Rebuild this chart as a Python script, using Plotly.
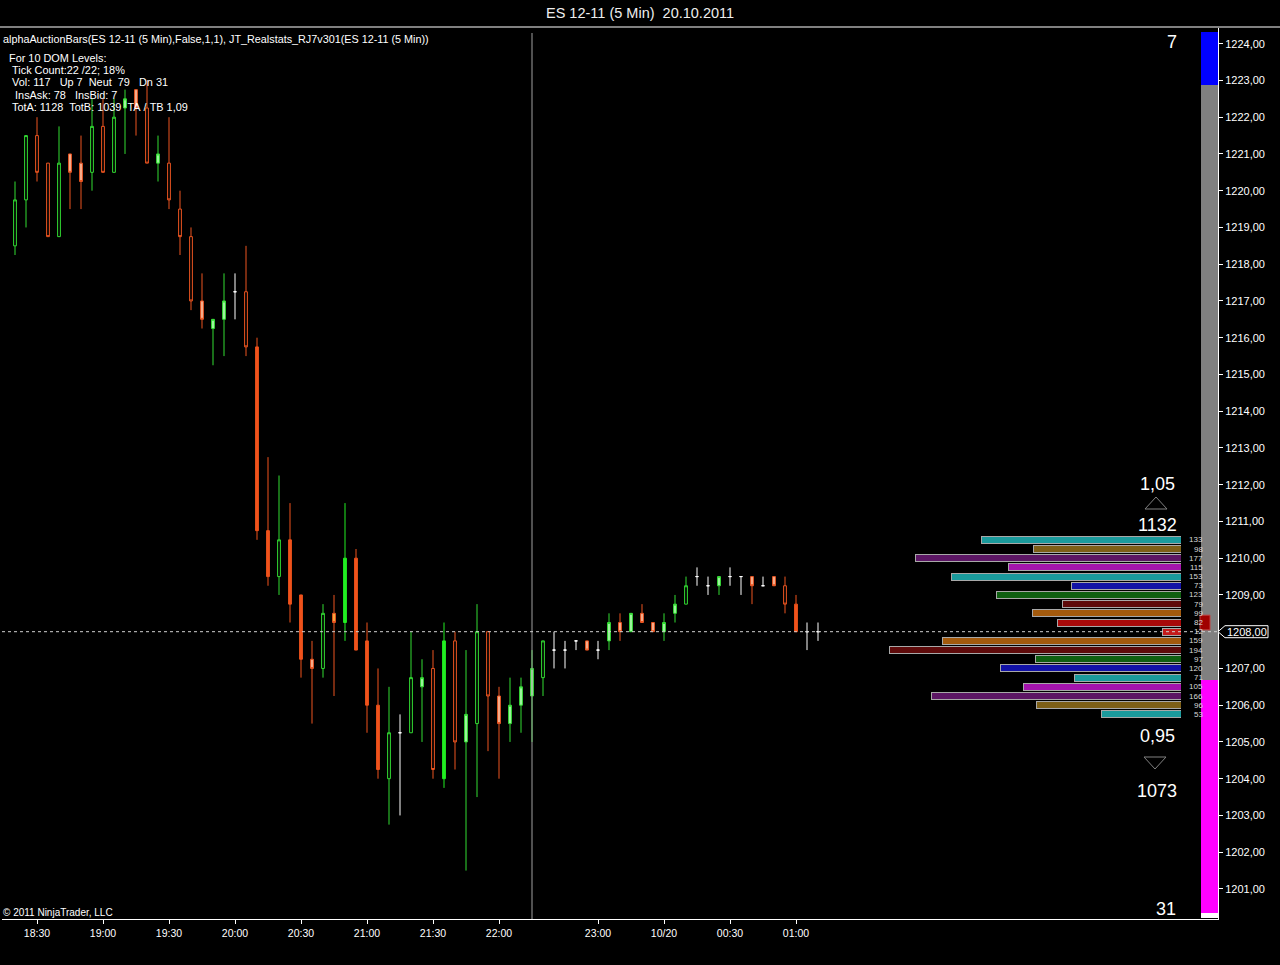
import plotly.graph_objects as go

# ---------------- data ----------------
bar_idx = list(range(74))
opens = [1218.5, 1219.75, 1221.5, 1220.75, 1218.75, 1221.0, 1220.75, 1220.5, 1221.75, 1220.5,
         1222.25, 1222.75, 1222.25, 1220.75, 1220.75, 1219.5, 1218.75, 1217.0, 1216.25, 1216.5,
         1217.25, 1217.25, 1215.75, 1210.75, 1209.5, 1210.5, 1209.0, 1207.25, 1207.0, 1208.5,
         1208.25, 1210.0, 1207.75, 1206.0, 1204.0, 1205.25, 1205.25, 1206.5, 1207.0, 1204.0,
         1207.75, 1205.0, 1205.5, 1208.0, 1206.25, 1205.5, 1206.0, 1206.25, 1206.75, 1207.5,
         1207.5, 1207.75, 1207.75, 1207.5, 1207.75, 1208.25, 1208.0, 1208.5, 1208.25, 1208.0,
         1208.5, 1208.75, 1209.5, 1209.25, 1209.25, 1209.5, 1209.5, 1209.5, 1209.25, 1209.5,
         1209.25, 1208.75, 1208.0, 1208.0]
highs = [1220.25, 1221.5, 1222.0, 1220.75, 1221.75, 1221.0, 1221.5, 1222.5, 1222.5, 1222.5,
         1222.75, 1222.75, 1223.0, 1221.5, 1222.0, 1220.0, 1219.0, 1217.75, 1216.5, 1217.75,
         1217.75, 1218.5, 1216.0, 1212.75, 1212.25, 1211.5, 1209.0, 1207.75, 1208.75, 1209.0,
         1211.5, 1210.25, 1208.25, 1207.0, 1206.5, 1205.75, 1208.0, 1207.25, 1207.5, 1208.25,
         1208.0, 1207.5, 1208.75, 1208.0, 1206.5, 1206.75, 1206.75, 1207.5, 1207.75, 1208.0,
         1207.75, 1207.75, 1207.75, 1207.75, 1208.5, 1208.5, 1208.5, 1208.75, 1208.25, 1208.5,
         1209.0, 1209.5, 1209.75, 1209.5, 1209.5, 1209.75, 1209.5, 1209.5, 1209.5, 1209.5,
         1209.5, 1209.0, 1208.25, 1208.25]
lows = [1218.25, 1219.0, 1220.25, 1218.75, 1218.75, 1219.5, 1219.5, 1220.0, 1220.5, 1220.5,
        1221.0, 1221.5, 1220.75, 1220.25, 1219.5, 1218.25, 1216.75, 1216.25, 1215.25, 1215.5,
        1216.5, 1215.5, 1210.5, 1209.25, 1209.0, 1208.25, 1206.75, 1205.5, 1206.75, 1206.25,
        1207.75, 1207.5, 1205.25, 1204.0, 1202.75, 1203.0, 1205.25, 1205.0, 1204.0, 1203.75,
        1204.25, 1201.5, 1203.5, 1204.75, 1204.0, 1205.0, 1205.25, 1205.0, 1206.25, 1207.0,
        1207.0, 1207.5, 1207.5, 1207.25, 1207.5, 1207.75, 1208.0, 1208.25, 1208.0, 1207.75,
        1208.25, 1208.75, 1209.25, 1209.0, 1209.0, 1209.25, 1209.0, 1208.75, 1209.25, 1209.25,
        1208.5, 1208.0, 1207.5, 1207.75]
closes = [1219.75, 1221.5, 1220.5, 1218.75, 1220.75, 1220.5, 1220.25, 1221.75, 1220.5, 1222.0,
          1222.5, 1222.25, 1220.75, 1221.0, 1219.75, 1218.75, 1217.0, 1216.5, 1216.5, 1217.0,
          1217.25, 1215.75, 1210.75, 1209.5, 1210.5, 1208.75, 1207.25, 1207.0, 1208.5, 1208.25,
          1210.0, 1207.5, 1206.0, 1204.25, 1205.25, 1205.25, 1206.75, 1206.75, 1204.25, 1207.75,
          1205.0, 1205.75, 1208.0, 1206.25, 1205.5, 1206.0, 1206.5, 1207.0, 1207.75, 1207.5,
          1207.5, 1207.75, 1207.5, 1207.5, 1208.25, 1208.0, 1208.5, 1208.25, 1208.0, 1208.25,
          1208.75, 1209.25, 1209.5, 1209.25, 1209.5, 1209.5, 1209.5, 1209.25, 1209.25, 1209.25,
          1208.75, 1208.0, 1208.0, 1208.0]
bar_styles = ['G', 'G', 'R', 'R', 'G', 'RL', 'RL', 'G', 'R', 'G',
              'GL', 'RL', 'R', 'GL', 'R', 'R', 'R', 'RL', 'GL', 'GL',
              'W', 'R', 'RF', 'RF', 'G', 'RF', 'RF', 'RL', 'G', 'Y',
              'GF', 'RF', 'RF', 'RF', 'G', 'W', 'G', 'GL', 'R', 'GF',
              'R', 'GL', 'G', 'R', 'RL', 'GL', 'GL', 'GL', 'G', 'W',
              'W', 'W', 'RL', 'W', 'GL', 'RL', 'GL', 'RL', 'RL', 'GL',
              'GL', 'G', 'W', 'W', 'GL', 'W', 'W', 'RL', 'W', 'RL',
              'R', 'RF', 'W', 'W']

time_tick_idx = [2, 8, 14, 20, 26, 32, 38, 44, 53, 59, 65, 71]
time_tick_labels = ['18:30', '19:00', '19:30', '20:00', '20:30', '21:00', '21:30', '22:00',
                    '23:00', '10/20', '00:30', '01:00']
price_ticks = [1201, 1202, 1203, 1204, 1205, 1206, 1207, 1209, 1210, 1211, 1212,
               1213, 1214, 1215, 1216, 1217, 1218, 1219, 1220, 1221, 1222, 1223, 1224]
last_price = 1208.0
session_line_idx = 47

dom_prices = [1210.5, 1210.25, 1210.0, 1209.75, 1209.5, 1209.25, 1209.0, 1208.75, 1208.5, 1208.25,
              1208.0, 1207.75, 1207.5, 1207.25, 1207.0, 1206.75, 1206.5, 1206.25, 1206.0, 1205.75]
dom_sizes = [133, 98, 177, 115, 153, 73, 123, 79, 99, 82,
             12, 159, 194, 97, 120, 71, 105, 166, 96, 53]
dom_colors = ['#1a9a9c', '#7d5f17', '#5c1664', '#a414ac', '#1a9a9c', '#1212a6', '#0f5f11', '#5e0a0a',
              '#a35a0d', '#a80a0a', '#c41a1a', '#a35a0d', '#5e0a0a', '#0f5f11', '#1212a6', '#1a9a9c',
              '#a414ac', '#5c1664', '#7d5f17', '#1a9a9c']

vol_up, vol_neut, vol_dn = 7, 79, 31

info_lines = [
    'For 10 DOM Levels:',
    ' Tick Count:22 /22; 18%',
    ' Vol: 117   Up 7  Neut  79   Dn 31',
    '  InsAsk: 78   InsBid: 7',
    ' TotA: 1128  TotB: 1039  TA / TB 1,09',
]
header_text = 'alphaAuctionBars(ES 12-11 (5 Min),False,1,1), JT_Realstats_RJ7v301(ES 12-11 (5 Min))'
title_text = 'ES 12-11 (5 Min)  20.10.2011'
ask_ratio, ask_total = '1,05', '1132'
bid_ratio, bid_total = '0,95', '1073'

# ---------------- layout geometry ----------------
W, H = 1280, 965
ML, MR, MT, MB = 2, 62, 28, 46
PW = W - ML - MR
PH = H - MT - MB


def px(x):
    return (x - ML) / PW


def py(y):
    return (H - MB - y) / PH


FONT = 'Arial, Liberation Sans, sans-serif'

style_defs = {
    'G': ('#33dd33', '#000000'),
    'R': ('#ec5520', '#000000'),
    'GF': ('#22ee22', '#22ee22'),
    'RF': ('#f0521c', '#f0521c'),
    'GL': ('#33dd33', '#a8f8a8'),
    'RL': ('#ec5520', '#f8b898'),
    'Y': ('#ec5520', '#f8b040'),
    'W': ('#ffffff', '#ffffff'),
}

fig = go.Figure()

for code, (lc, fc) in style_defs.items():
    sel = [i for i, s in enumerate(bar_styles) if s == code]
    if not sel:
        continue
    fig.add_trace(go.Candlestick(
        x=[bar_idx[i] for i in sel],
        open=[opens[i] for i in sel],
        high=[highs[i] for i in sel],
        low=[lows[i] for i in sel],
        close=[closes[i] for i in sel],
        increasing=dict(line=dict(color=lc, width=1), fillcolor=fc),
        decreasing=dict(line=dict(color=lc, width=1), fillcolor=fc),
        whiskerwidth=0,
        showlegend=False, hoverinfo='skip',
    ))

# DOM bars
fig.add_trace(go.Bar(
    x=dom_sizes, y=dom_prices, orientation='h', xaxis='x2', yaxis='y',
    width=0.19, marker=dict(color=dom_colors, line=dict(color='#a8a8a8', width=1)),
    showlegend=False, hoverinfo='skip',
))

# volume split bar
for val, col in [(vol_dn, '#ff00ff'), (vol_neut, '#808080'), (vol_up, '#0000ff')]:
    fig.add_trace(go.Bar(
        x=[0], y=[val], xaxis='x3', yaxis='y3', width=1,
        marker=dict(color=col, line=dict(width=0)),
        showlegend=False, hoverinfo='skip',
    ))

annotations = []


def add_text(text, x, y, size, color='#ffffff', xanchor='left', yanchor='middle', xref='paper', yref='paper'):
    annotations.append(dict(text=text, x=x, y=y, xref=xref, yref=yref, xanchor=xanchor,
                            yanchor=yanchor, showarrow=False,
                            font=dict(family=FONT, size=size, color=color)))


add_text(title_text.replace(' ', '\u00a0'), px(640), py(13), 14.5, '#eeeeee', xanchor='center')
add_text(header_text, px(1), py(39), 10.8)
for i, t in enumerate(info_lines):
    add_text(t.replace(' ', '\u00a0'), px(7), py(58 + 12.2 * i), 10.9)
add_text('\u00a9 2011 NinjaTrader, LLC', px(1), py(912), 10)

add_text(str(vol_up), px(1172), py(42), 18, xanchor='center')
add_text(str(vol_dn), px(1166), py(909), 18, xanchor='center')
add_text(ask_ratio, px(1157), py(484), 18, xanchor='center')
add_text(ask_total, px(1157), py(525), 18, xanchor='center')
add_text(bid_ratio, px(1157), py(736), 18, xanchor='center')
add_text(bid_total, px(1157), py(791), 18, xanchor='center')

for p, s in zip(dom_prices, dom_sizes):
    add_text(str(s), px(1204.5), p, 8, '#d8d8d8', xanchor='right', yref='y')

add_text(f'{last_price:.2f}'.replace('.', ','), px(1247), last_price, 11, xanchor='center', yref='y')

shapes = [
    # top border line
    dict(type='line', xref='paper', yref='paper', x0=px(0), x1=px(1280), y0=py(27), y1=py(27),
         line=dict(color='#ffffff', width=1)),
    # session vertical line
    dict(type='line', xref='x', yref='paper', x0=session_line_idx, x1=session_line_idx, y0=0, y1=py(33),
         line=dict(color='#a0a0a0', width=1)),
    # last price dotted line
    dict(type='line', xref='paper', yref='y', x0=0, x1=1, y0=last_price, y1=last_price,
         line=dict(color='#d0d0d0', width=1, dash='dot')),
    # price marker box
    dict(type='path', xref='paper', yref='y', xsizemode='pixel', ysizemode='pixel',
         xanchor=1, yanchor=last_price, path='M 0 0 L 7 6 L 50 6 L 50 -6 L 7 -6 Z',
         line=dict(color='#ffffff', width=1), fillcolor='#000000'),
    # small ask marker
    dict(type='rect', xref='paper', yref='y', xsizemode='pixel', xanchor=1, x0=-18, x1=-8,
         y0=last_price + 0.05, y1=last_price + 0.45, fillcolor='#a00000', line=dict(color='#c04040', width=1)),
    # white strip at bottom of volume bar
    dict(type='rect', xref='paper', yref='paper', x0=px(1201), x1=px(1218), y0=py(918), y1=py(913),
         fillcolor='#ffffff', line=dict(width=0)),
    # triangles
    dict(type='path', xref='paper', yref='paper', xsizemode='pixel', ysizemode='pixel',
         xanchor=px(1156), yanchor=py(503), path='M -11 -6 L 0 6 L 11 -6 Z',
         line=dict(color='#808080', width=1)),
    dict(type='path', xref='paper', yref='paper', xsizemode='pixel', ysizemode='pixel',
         xanchor=px(1155), yanchor=py(763), path='M -11 6 L 0 -6 L 11 6 Z',
         line=dict(color='#808080', width=1)),
]

k_left = (ML - 15) / 11.0
k_right = (W - MR - 15) / 11.0
y_bottom = 1208 - (H - MB - 631.7) / 36.75
y_top = 1208 + (631.7 - MT) / 36.75

fig.update_layout(
    width=W, height=H,
    margin=dict(l=ML, r=MR, t=MT, b=MB),
    paper_bgcolor='#000000', plot_bgcolor='#000000',
    font=dict(family=FONT, color='#ffffff', size=10.5),
    showlegend=False,
    barmode='stack', boxgap=0.64, boxgroupgap=0.3,
    xaxis=dict(range=[k_left, k_right], domain=[0, 1], showgrid=False, zeroline=False,
               tickmode='array', tickvals=time_tick_idx, ticktext=time_tick_labels,
               ticks='outside', ticklen=4, tickcolor='#ffffff', showline=True,
               linecolor='#ffffff', linewidth=1, rangeslider=dict(visible=False),
               tickfont=dict(family=FONT, size=10.5, color='#ffffff'), fixedrange=True),
    yaxis=dict(range=[y_bottom, y_top], side='right', showgrid=False, zeroline=False,
               tickmode='array', tickvals=price_ticks,
               ticktext=[f'{v},00' for v in price_ticks],
               ticks='outside', ticklen=4, tickcolor='#ffffff', showline=True,
               linecolor='#ffffff', linewidth=1,
               tickfont=dict(family=FONT, size=11, color='#ffffff')),
    xaxis2=dict(domain=[px(880), px(1181)], range=[301 / 1.502, 0], anchor='y', visible=False),
    xaxis3=dict(domain=[px(1201), px(1218)], range=[-0.5, 0.5], anchor='y3', visible=False),
    yaxis3=dict(domain=[py(913), py(32)], range=[0, vol_up + vol_neut + vol_dn], anchor='x3',
                visible=False),
    annotations=annotations,
    shapes=shapes,
)

fig.write_html('out.html', config={'displayModeBar': False})

# remove the default page margin so the figure sits at the top-left corner
with open('out.html', 'r', encoding='utf-8') as f:
    html = f.read()
html = html.replace('<head>', '<head><style>html,body{margin:0;padding:0;background:#000;overflow:hidden;}</style>', 1)
with open('out.html', 'w', encoding='utf-8') as f:
    f.write(html)
